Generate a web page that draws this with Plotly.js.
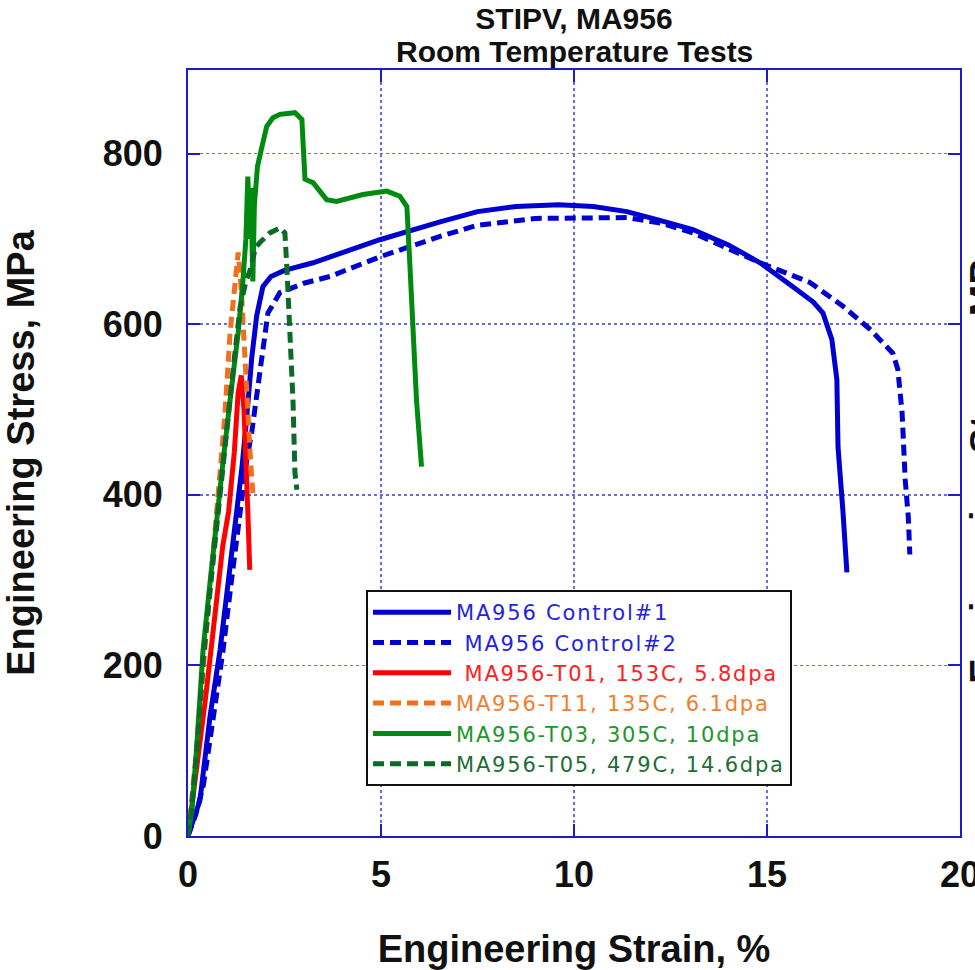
<!DOCTYPE html>
<html>
<head>
<meta charset="utf-8">
<script src="https://cdn.plot.ly/plotly-3.0.1.min.js"></script>
<style>
html,body{margin:0;padding:0;background:#fff;}
#chart{width:975px;height:970px;}
</style>
</head>
<body>
<div id="chart"></div>
<script>
// Control#1 (solid blue)
var c1Strain = [0,0.15,0.31,0.57,0.83,1.04,1.26,1.4,1.52,1.65,1.78,1.94,2.15,2.5,3.24,4.97,6.53,7.5,8.5,9.6,10.5,11.37,12.2,13.08,14,14.82,15.67,16.2,16.45,16.68,16.81,16.84,16.97,17.07];
var c1Stress = [0,20,42,140,218,297,374,433,490,560,610,644,656,663,672,699,720,732,738,740,738,732,722,711,693,672,644,626,613,582,535,456,379,309];
// Control#2 (dashed blue)
var c2Strain = [0,0.2,0.4,0.65,0.9,1.12,1.35,1.52,1.65,1.87,2.07,2.38,3.0,3.68,4.97,6.53,7.5,9,10,11.37,12.3,13.08,14.82,16.11,16.97,17.67,18.26,18.39,18.5,18.58,18.66,18.7];
var c2Stress = [0,25,60,140,215,297,380,440,473,550,613,637,648,656,679,703,716,724,724,725,718,707,672,649,621,594,566,547,496,418,374,330];
// T01 (solid red)
var t01Strain = [0,0.2,0.45,0.7,0.9,1.05,1.2,1.3,1.38,1.45,1.5,1.55,1.6];
var t01Stress = [0,70,160,260,340,380,450,520,540,500,450,380,312];
// T11 (dashed orange)
var t11Strain = [0,0.2,0.4,0.6,0.8,0.95,1.09,1.3,1.38,1.48,1.56,1.62,1.68];
var t11Stress = [0,90,200,300,400,490,590,684,640,558,473,440,402];
// T03 (solid green)
var t03Strain = [0,0.1,0.22,0.39,0.57,0.74,0.91,1.09,1.3,1.42,1.5,1.55,1.6,1.63,1.68,1.72,1.8,1.9,2.04,2.2,2.38,2.77,2.95,3.03,3.24,3.59,3.85,4.53,5.15,5.49,5.67,5.75,5.83,5.92,6.05];
var t03Stress = [0,30,101,218,297,374,440,511,590,649,700,773,700,760,650,740,785,805,832,842,846,848,840,770,766,746,744,752,756,750,738,668,590,511,433];
// T05 (dashed dark green)
var t05Strain = [0,0.1,0.25,0.4,0.6,0.8,1.0,1.2,1.35,1.5,1.62,1.75,1.87,2.12,2.38,2.51,2.56,2.64,2.72,2.77,2.82];
var t05Stress = [0,35,110,210,300,390,470,560,620,650,665,690,696,707,713,707,668,590,511,426,406];

var seriesNames = ['MA956 Control#1', '&nbsp;MA956 Control#2', '&nbsp;MA956-T01, 153C, 5.8dpa', 'MA956-T11, 135C, 6.1dpa', 'MA956-T03, 305C, 10dpa', 'MA956-T05, 479C, 14.6dpa'];
var xTickVals = [0,5,10,15,20];
var yTickVals = [0,200,400,600,800];
var titleLine1 = 'STIPV, MA956';
var titleLine2 = 'Room Temperature Tests';
var xTitle = 'Engineering Strain, %';
var yTitle = 'Engineering Stress, MPa';

var colors = ['#0000d0','#0000d0','#ff0000','#f07020','#008a10','#0b6a25'];
var textColors = ['#2424e0','#2424e0','#ff2020','#f08030','#20962a','#1e6e35'];
var dashes = ['solid','11px,6px','solid','11px,6px','solid','11px,6px'];
var xs = [c1Strain,c2Strain,t01Strain,t11Strain,t03Strain,t05Strain];
var ys = [c1Stress,c2Stress,t01Stress,t11Stress,t03Stress,t05Stress];

var traces = [];
for (var i = 0; i < xs.length; i++) {
  traces.push({
    type: 'scatter', mode: 'lines',
    x: xs[i], y: ys[i],
    name: '<span style="color:' + textColors[i] + ';letter-spacing:1.8px">' + seriesNames[i] + '</span>',
    line: {color: colors[i], width: 5, dash: dashes[i]}
  });
}

var axisBlue = '#1c1cc8';
var font = 'Liberation Sans, Arial, sans-serif';

var layout = {
  width: 975, height: 970,
  margin: {l: 188, r: 15, t: 70, b: 134},
  paper_bgcolor: '#ffffff', plot_bgcolor: '#ffffff',
  showlegend: true,
  title: {
    text: '<b>' + titleLine1 + '</b>',
    font: {family: font, size: 30, color: '#111'},
    x: 0.5, xref: 'paper', xanchor: 'center',
    y: 1 - 8 / 970, yref: 'container', yanchor: 'top'
  },
  xaxis: {
    range: [0, 20], tickvals: xTickVals, ticktext: xTickVals.map(String),
    showline: true, linecolor: axisBlue, linewidth: 2, mirror: 'ticks',
    ticks: 'inside', ticklen: 12, tickwidth: 2, tickcolor: axisBlue,
    showgrid: true, gridcolor: '#6a6ad8', gridwidth: 1.5, griddash: 'dot',
    zeroline: false, ticklabeloverflow: 'allow',
    tickfont: {family: font, size: 36, color: '#111', weight: 'bold'},
    ticklabelstandoff: 6,
    title: {text: '<b>' + xTitle + '</b>', font: {family: font, size: 38, color: '#111'}, standoff: 46}
  },
  yaxis: {
    range: [0, 898], tickvals: yTickVals, ticktext: yTickVals.map(String),
    showline: true, linecolor: axisBlue, linewidth: 2, mirror: 'ticks',
    ticks: 'inside', ticklen: 12, tickwidth: 2, tickcolor: axisBlue,
    showgrid: true, gridcolor: '#6a6ad8', gridwidth: 1.5, griddash: 'dot',
    zeroline: false,
    tickfont: {family: font, size: 36, color: '#111', weight: 'bold'},
    ticklabelstandoff: 16,
    title: {text: '<b>' + yTitle + '</b>', font: {family: font, size: 38, color: '#111'}, standoff: 58}
  },
  legend: {
    x: 0.2306, y: 0.3211, xanchor: 'left', yanchor: 'top',
    bgcolor: '#ffffff', bordercolor: '#111', borderwidth: 2,
    font: {family: 'DejaVu Sans, sans-serif', size: 21},
    itemwidth: 78, tracegroupgap: 0
  },
  annotations: [{
    text: '<b>' + titleLine2 + '</b>',
    xref: 'paper', yref: 'paper', x: 0.5, y: 1, xanchor: 'center', yanchor: 'bottom',
    yshift: 0, showarrow: false, font: {family: font, size: 30, color: '#111'}
  }, {
    text: '<b>' + yTitle + '</b>', textangle: -90,
    xref: 'paper', yref: 'paper', x: 1.0013, y: 0.49, xanchor: 'left', yanchor: 'middle',
    showarrow: false, font: {family: font, size: 38, color: '#111'}
  }]
};

Plotly.newPlot('chart', traces, layout, {displayModeBar: false, staticPlot: true});
</script>
</body>
</html>
